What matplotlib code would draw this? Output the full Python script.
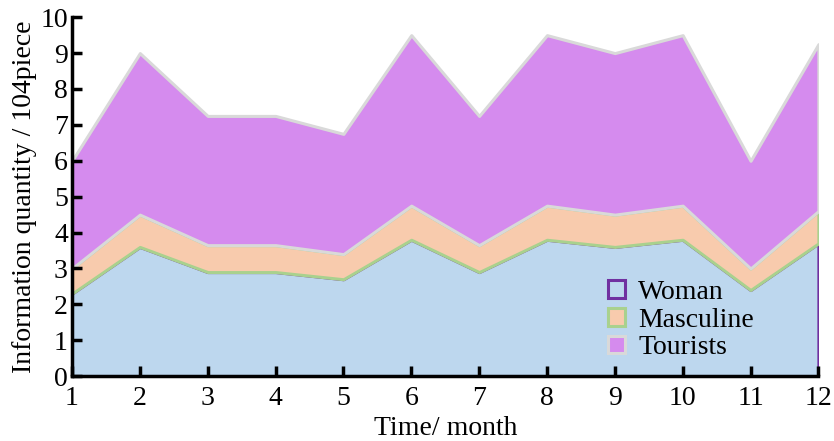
import matplotlib
matplotlib.use('Agg')
import matplotlib.pyplot as plt

plt.rcParams['font.family'] = ['Liberation Serif', 'DejaVu Serif']

months = [1, 2, 3, 4, 5, 6, 7, 8, 9, 10, 11, 12]
woman = [2.3, 3.6, 2.9, 2.9, 2.7, 3.8, 2.9, 3.8, 3.6, 3.8, 2.4, 3.7]
masculine = [0.7, 0.9, 0.75, 0.75, 0.7, 0.95, 0.75, 0.95, 0.9, 0.95, 0.6, 0.9]
tourists = [3.0, 4.5, 3.6, 3.6, 3.35, 4.75, 3.6, 4.75, 4.5, 4.75, 3.0, 4.65]
labels = ['Woman', 'Masculine', 'Tourists']

fig = plt.figure(figsize=(8.34, 4.41), dpi=100)
ax = fig.add_axes([0.0863, 0.147, 0.895, 0.814])

polys = ax.stackplot(months, woman, masculine, tourists, labels=labels,
                     colors=['#BDD7EE', '#F8CBAD', '#D58BEE'])
for p, ec in zip(polys, ['#7030A0', '#A9D18E', '#D9D9D9']):
    p.set_edgecolor(ec)
    p.set_linewidth(2.2)

ax.set_xlim(1, 12)
ax.set_ylim(0, 10)
ax.set_xticks(months)
ax.set_yticks(range(0, 11))
ax.spines['top'].set_visible(False)
ax.spines['right'].set_visible(False)
for s in ['left', 'bottom']:
    ax.spines[s].set_linewidth(2.5)
    ax.spines[s].set_zorder(5)
ax.tick_params(direction='in', length=7, width=2.5, labelsize=20, pad=3)
ax.tick_params(axis='x', pad=7)
ax.set_xlabel('Time/ month', fontsize=20, labelpad=4)
ax.set_ylabel('Information quantity / 104piece', fontsize=20, labelpad=2)

ax.legend(loc='lower right', bbox_to_anchor=(0.94, -0.01), frameon=False,
          fontsize=20, handlelength=0.6, handleheight=0.6, handletextpad=0.5,
          labelspacing=0.1, borderpad=0.2)

fig.savefig('out.png', dpi=100)
